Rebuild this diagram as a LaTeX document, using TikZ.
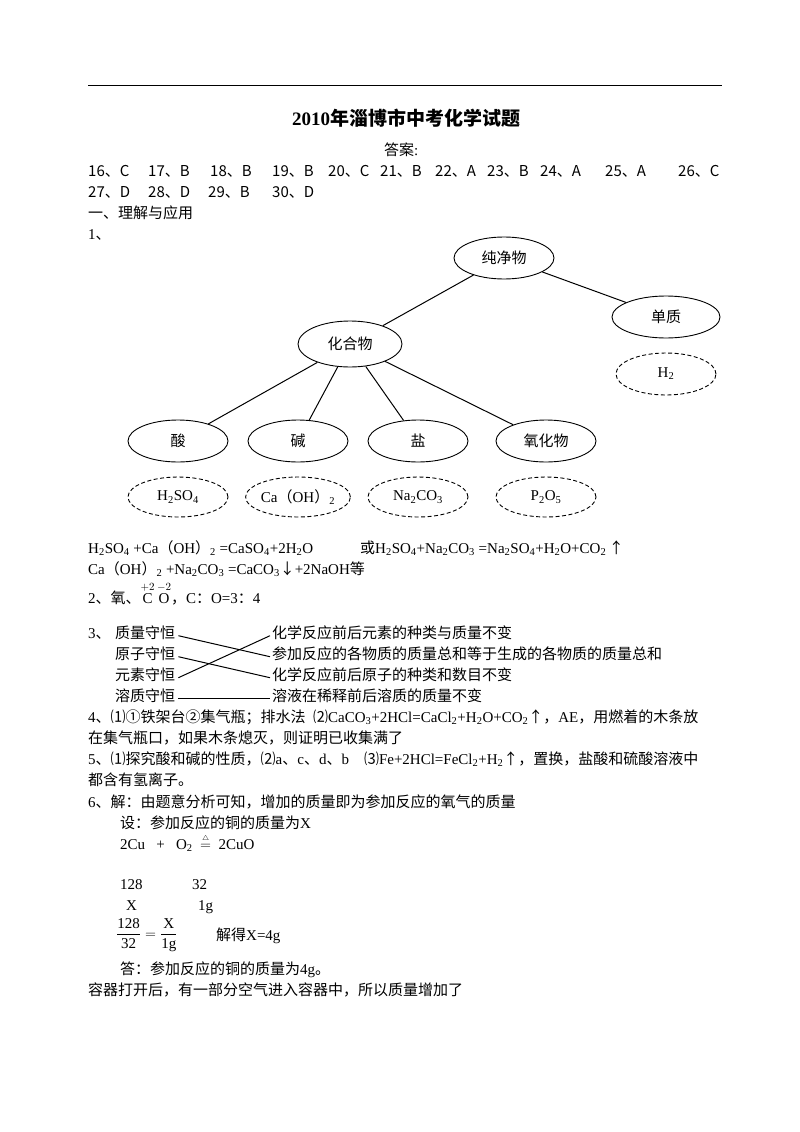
\documentclass[tikz,border=0pt]{standalone}
\usepackage{fontspec}
\usepackage{amsmath}
\usetikzlibrary{shapes.geometric}
\setmainfont{Liberation Serif}
\newfontfamily\cjk{Noto Sans CJK SC}
\newcommand{\zh}[1]{{\cjk #1}}
\newcommand{\dn}[1]{\textsubscript{#1}}
\begin{document}
\begin{tikzpicture}[x=1pt,y=-1pt,
  t/.style={anchor=base west,inner sep=0pt,font=\fontsize{15}{18}\selectfont},
  el/.style={draw,line width=0.9pt,ellipse,minimum width=100pt,minimum height=42pt,inner sep=0pt,font=\fontsize{15}{18}\selectfont},
  del/.style={el,dash pattern=on 4pt off 2.5pt},
  ln/.style={line width=1pt}]
\useasboundingbox (0,0) rectangle (800,1132);
\draw[line width=0.8pt] (88,85) -- (722,85);
\node[inner sep=0,font=\fontsize{19}{22}\selectfont\bfseries] (title) at (406,118) {2010\zh{\bfseries 年淄博市中考化学试题}};
\node[t] (ans) at (384,155) {\zh{答案}:};
\foreach \x/\s [count=\i] in {88/16、C,148/17、B,210/18、B,272/19、B,328/20、C,380/21、B,435/22、A,487/23、B,540/24、A,605/25、A,678/26、C}
  \node[t] (a\i) at (\x,176) {\zh{\s}};
\foreach \x/\s [count=\i] in {88/27、D,148/28、D,208/29、B,272/30、D}
  \node[t] (b\i) at (\x,197) {\zh{\s}};
\node[t] (s1) at (88,218) {\zh{一、理解与应用}};
\node[t] (q1) at (88,239) {1\zh{、}};
% tree
\node[el] (pure) at (504,258) {\zh{纯净物}};
\node[el,minimum width=108pt] (simple) at (666,317) {\zh{单质}};
\node[del] (h2) at (666,374) {H\dn{2}};
\node[el,minimum width=104pt,minimum height=46pt] (comp) at (350,344) {\zh{化合物}};
\node[el] (acid) at (178,441) {\zh{酸}};
\node[el] (base) at (298,441) {\zh{碱}};
\node[el] (salt) at (418,441) {\zh{盐}};
\node[el] (oxide) at (546,441) {\zh{氧化物}};
\node[del,minimum height=40pt] (d1) at (178,497) {H\dn{2}SO\dn{4}};
\node[del,minimum height=40pt] (d2) at (298,497) {Ca\zh{（}OH\zh{）}\dn{2}};
\node[del,minimum height=40pt] (d3) at (418,497) {Na\dn{2}CO\dn{3}};
\node[del,minimum height=40pt] (d4) at (546,497) {P\dn{2}O\dn{5}};
\draw[ln] (pure) -- (comp);
\draw[ln] (pure) -- (simple);
\foreach \n in {acid,base,salt,oxide} \draw[ln] (comp) -- (\n);
% equations
\node[t] (e1) at (88,553) {H\dn{2}SO\dn{4} +Ca\zh{（}OH\zh{）}\dn{2} =CaSO\dn{4}+2H\dn{2}O};
\node[t] (e2) at (360,553) {\zh{或}H\dn{2}SO\dn{4}+Na\dn{2}CO\dn{3} =Na\dn{2}SO\dn{4}+H\dn{2}O+CO\dn{2}\,\zh{↑}};
\node[t] (e3) at (88,574) {Ca\zh{（}OH\zh{）}\dn{2} +Na\dn{2}CO\dn{3} =CaCO\dn{3}\zh{↓}+2NaOH\zh{等}};
\node[t] (q2) at (88,603) {2\zh{、氧、}$\overset{\scriptstyle+2}{\mathrm{C}}\,\overset{\scriptstyle-2}{\mathrm{O}}$\zh{，}C\zh{：}O=3\zh{：}4};
% section 3
\node[t] (q3) at (88,638) {3\zh{、}};
\node[t] (l1) at (115,638) {\zh{质量守恒}};
\node[t] (l2) at (115,659) {\zh{原子守恒}};
\node[t] (l3) at (115,680) {\zh{元素守恒}};
\node[t] (l4) at (115,701) {\zh{溶质守恒}};
\node[t] (r1) at (272,638) {\zh{化学反应前后元素的种类与质量不变}};
\node[t] (r2) at (272,659) {\zh{参加反应的各物质的质量总和等于生成的各物质的质量总和}};
\node[t] (r3) at (272,680) {\zh{化学反应前后原子的种类和数目不变}};
\node[t] (r4) at (272,701) {\zh{溶液在稀释前后溶质的质量不变}};
\draw[ln] ([xshift=3pt]l1.mid east) -- ([xshift=-2pt]r2.mid west);
\draw[ln] ([xshift=3pt]l2.mid east) -- ([xshift=-2pt]r3.mid west);
\draw[ln] ([xshift=3pt]l3.mid east) -- ([xshift=-2pt]r1.mid west);
\draw[ln] ([xshift=3pt]l4.mid east) -- ([xshift=-2pt]r4.mid west);
% 4,5
\node[t] (q4) at (88,722) {4\zh{、⑴①铁架台②集气瓶；排水法}\ \ \zh{⑵}CaCO\dn{3}+2HCl=CaCl\dn{2}+H\dn{2}O+CO\dn{2}\zh{↑，}AE\zh{，用燃着的木条放}};
\node[t] (q4b) at (88,743) {\zh{在集气瓶口，如果木条熄灭，则证明已收集满了}};
\node[t] (q5) at (88,764) {5\zh{、⑴探究酸和碱的性质，⑵}a\zh{、}c\zh{、}d\zh{、}b\ \ \ \ \zh{⑶}Fe+2HCl=FeCl\dn{2}+H\dn{2}\zh{↑，置换，盐酸和硫酸溶液中}};
\node[t] (q5b) at (88,785) {\zh{都含有氢离子。}};
\node[t] (q6) at (88,807) {6\zh{、解：由题意分析可知，增加的质量即为参加反应的氧气的质量}};
\node[t] (q6a) at (120,828) {\zh{设：参加反应的铜的质量为}X};
\node[t] (q6b) at (120,849) {2Cu\ \ \ +\ \ \ O\dn{2}\ \ $\overset{\scriptscriptstyle\triangle}{=}$\ \ 2CuO};
\node[t] (n1) at (120,889) {128};
\node[t] (n2) at (192,889) {32};
\node[t] (n3) at (126,910) {X};
\node[t] (n4) at (198,910) {1g};
\node[inner sep=0,anchor=west,font=\fontsize{15}{18}\selectfont] (fr) at (116,935) {$\dfrac{\text{128}}{\text{32}}=\dfrac{\text{X}}{\text{1g}}$};
\node[t] (sol) at (216,940) {\zh{解得}X=4g};
\node[t] (q6c) at (120,974) {\zh{答：参加反应的铜的质量为}4g\zh{。}};
\node[t] (q6d) at (88,995) {\zh{容器打开后，有一部分空气进入容器中，所以质量增加了}};
\end{tikzpicture}
\end{document}
